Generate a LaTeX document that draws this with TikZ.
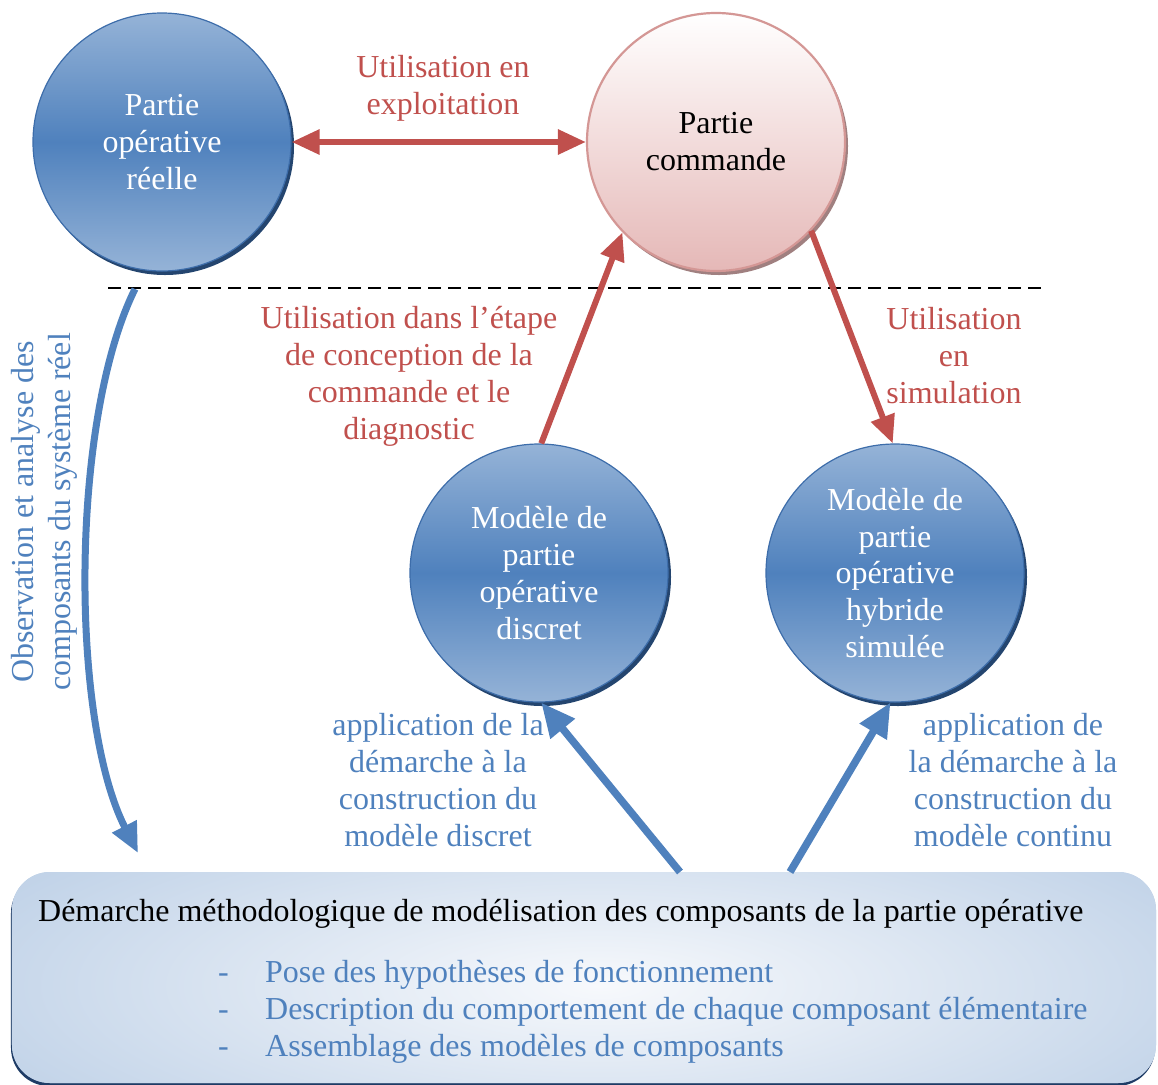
\documentclass[tikz,border=0pt]{standalone}
\usepackage{fontspec}
\setmainfont{Liberation Serif}
\usetikzlibrary{arrows.meta,calc}
\definecolor{redc}{HTML}{C0504D}
\definecolor{bluec}{HTML}{4F81BD}
\definecolor{circlight}{HTML}{95B3D7}
\definecolor{circmid}{HTML}{4F81BD}
\definecolor{circborder}{HTML}{3D6DAA}
\definecolor{circshadow}{HTML}{24456F}
\definecolor{pinktop}{HTML}{FFFFFF}
\definecolor{pinkbot}{HTML}{E5B8B7}
\definecolor{pinkborder}{HTML}{D49795}
\definecolor{pinkshadow}{HTML}{A08080}
\definecolor{boxc}{HTML}{B9CDE5}
\definecolor{boxhl}{HTML}{F7F9FC}
\definecolor{boxshadow}{HTML}{1F3C66}
\newcommand\fsz{\fontsize{32.1pt}{37.1pt}\selectfont}
\begin{document}
\begin{tikzpicture}[x=1bp,y=-1bp,
  bluecirc/.style={circle, minimum size=258bp, inner sep=0pt, draw=circborder, line width=1.2bp,
    top color=circlight, bottom color=circlight, middle color=circmid,
    preaction={fill=circshadow, transform canvas={shift={(3bp,-4bp)}}},
    text=white, font=\fsz, align=center},
  pinkcirc/.style={circle, minimum size=258bp, inner sep=0pt, draw=pinkborder, line width=2.2bp,
    top color=pinktop, bottom color=pinkbot,
    preaction={fill=pinkshadow, transform canvas={shift={(3bp,-4bp)}}},
    text=black, font=\fsz, align=center},
  lbl/.style={font=\fsz, align=center, inner sep=0pt},
  redarrow/.style={draw=redc, line width=6bp, -{Triangle[length=28bp,width=24bp]}},
  bluearrow/.style={draw=bluec, line width=7.5bp, -{Triangle[length=34bp,width=30bp]}},
  boxst/.style={rounded corners=38bp, minimum width=1144bp, minimum height=211bp, inner sep=0pt,
    fill=boxc, preaction={fill=boxshadow, transform canvas={shift={(-1bp,-3bp)}}},
    path picture={\shade[inner color=boxhl, outer color=boxc]
      ($(path picture bounding box.center)+(16bp,-8bp)$) ellipse [x radius=780bp, y radius=230bp];}},
]
\useasboundingbox (0,0) rectangle (1158,1085);

% bottom box
\node[boxst] (box) at (584,977.5) {};
\node[lbl, anchor=west, text=black] (title) at (38,914)
  {Démarche méthodologique de modélisation des composants de la partie opérative};
\node[lbl, anchor=west, align=left, text=bluec] (items) at (218,1012)
  {\makebox[47bp][l]{-}Pose des hypothèses de fonctionnement\\
   \makebox[47bp][l]{-}Description du comportement de chaque composant élémentaire\\
   \makebox[47bp][l]{-}Assemblage des modèles de composants};

% circles
\node[bluecirc] (c1) at (162,142) {Partie\\opérative\\réelle};
\node[pinkcirc] (c2) at (716,142) {Partie\\commande};
\node[bluecirc] (c3) at (539,573) {Modèle de\\partie\\opérative\\discret};
\node[bluecirc] (c4) at (895,573) {Modèle de\\partie\\opérative\\hybride\\simulée};

% dashed separator
\coordinate (dl) at (108,288);
\coordinate (dr) at (1045,288);
\draw[black, line width=1.8bp, dash pattern=on 13bp off 7bp] (dl) -- (dr);

% red arrows
\draw[draw=redc, line width=6bp, {Triangle[length=28bp,width=24bp]}-{Triangle[length=28bp,width=24bp]}]
  (c1.east) -- (c2.west);
\draw[redarrow] (c3.89) -- (c2.224);
\draw[redarrow] (c2.-43) -- (c4.91);

% blue arrows
\coordinate (b1) at (680,872);
\coordinate (b2) at (790,872);
\draw[bluearrow] (b1) -- (c3.-89);
\draw[bluearrow] (b2) -- (c4.-92);

\coordinate (obsS) at (135,289);
\coordinate (obsE) at (138,853);
\draw[draw=bluec, line width=7bp, -{Triangle[length=30bp,width=26bp]}]
  (obsS) .. controls (70,420) and (70,720) .. (obsE);

% labels
\node[lbl, text=redc] (l1) at (443,88) {Utilisation en\\exploitation};
\node[lbl, text=redc] (l2) at (409,376) {Utilisation dans l’étape\\de conception de la\\commande et le\\diagnostic};
\node[lbl, text=redc] (l3) at (954,356) {Utilisation\\en\\simulation};
\node[lbl, text=bluec] (l4) at (438,780) {application de la\\démarche à la\\construction du\\modèle discret};
\node[lbl, text=bluec] (l5) at (1013,780) {application de\\la démarche à la\\construction du\\modèle continu};
\node[lbl, text=bluec, rotate=90] (obs) at (44,512) {Observation et analyse des\\composants du système réel};
\end{tikzpicture}
\end{document}
